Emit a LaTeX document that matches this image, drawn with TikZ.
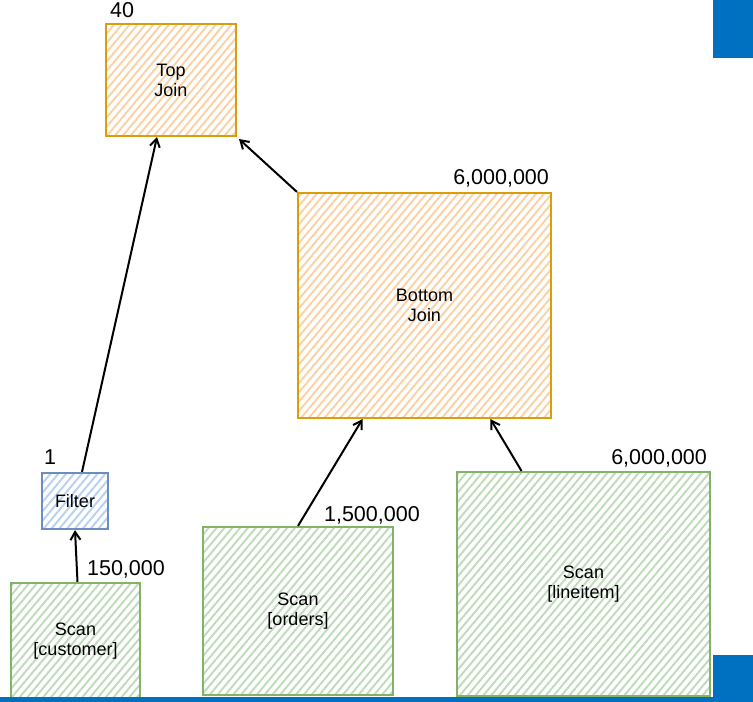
\documentclass[tikz,border=0pt]{standalone}
\usepackage{fontspec}
\setmainfont{Liberation Sans}
\usepackage{xcolor}
\usetikzlibrary{arrows.meta,patterns.meta}
\definecolor{joinline}{HTML}{DA9E0A}
\definecolor{joinfill}{HTML}{FAD2A6}
\definecolor{scanline}{HTML}{82B366}
\definecolor{scanfill}{HTML}{C0DCBC}
\definecolor{filtline}{HTML}{6C8EBF}
\definecolor{filtfill}{HTML}{BAD1F2}
\definecolor{slidebar}{HTML}{0070C0}
\tikzset{
    OpBox/.style = {draw,line width=2.2pt,inner sep=0pt,align=center,
        font=\fontsize{18}{20}\selectfont},
    JoinBox/.style = {OpBox,draw=joinline,pattern color=joinfill,
        pattern={Lines[angle=50,distance=6pt,line width=2pt]}},
    ScanBox/.style = {OpBox,draw=scanline,pattern color=scanfill,
        pattern={Lines[angle=50,distance=6pt,line width=2pt]}},
    FiltBox/.style = {OpBox,draw=filtline,pattern color=filtfill,
        pattern={Lines[angle=50,distance=6pt,line width=2pt]}},
    RowCount/.style = {inner sep=0pt,font=\fontsize{21.5}{24}\selectfont},
    Flow/.style = {draw,line width=2pt,-{Straight Barb[length=8pt,width=10pt]}}
}
\begin{document}
\begin{tikzpicture}[x=1pt,y=-1pt]
    \useasboundingbox (0,0) rectangle (753,702);
    % operators
    \node[JoinBox,minimum width=130pt,minimum height=112pt] (topjoin) at (171,80) {Top\\Join};
    \node[JoinBox,minimum width=253pt,minimum height=225pt] (botjoin) at (424.5,305.5) {Bottom\\Join};
    \node[FiltBox,minimum width=66pt,minimum height=56pt] (filter) at (75,501) {Filter};
    \node[ScanBox,minimum width=129pt,minimum height=116pt] (scancust) at (75.5,641) {Scan\\{[customer]}};
    \node[ScanBox,minimum width=190pt,minimum height=168pt] (scanord) at (298,611) {Scan\\{[orders]}};
    \node[ScanBox,minimum width=253pt,minimum height=224pt] (scanitem) at (583.5,584) {Scan\\{[lineitem]}};
    % row counts
    \node[RowCount,anchor=base west] (ntop) at ([xshift=5pt,yshift=6pt]topjoin.north west) {40};
    \node[RowCount,anchor=base east] (nbot) at ([xshift=-3pt,yshift=7pt]botjoin.north east) {6,000,000};
    \node[RowCount,anchor=base west] (nfilt) at ([xshift=3pt,yshift=7pt]filter.north west) {1};
    \node[RowCount,anchor=base west] (ncust) at ([xshift=77pt,yshift=6pt]scancust.north west) {150,000};
    \node[RowCount,anchor=base west] (nord) at ([xshift=122pt,yshift=4pt]scanord.north west) {1,500,000};
    \node[RowCount,anchor=base east] (nitem) at ([xshift=-4pt,yshift=6pt]scanitem.north east) {6,000,000};
    % data flow
    \draw[Flow] ([xshift=2pt]scancust.north) -- (filter.south);
    \draw[Flow] ([xshift=7pt]filter.north) -- ([xshift=-14pt]topjoin.south);
    \draw[Flow] (botjoin.north west) -- ([xshift=2pt,yshift=-2pt]topjoin.south east);
    \draw[Flow] (scanord.north) -- ([xshift=-62pt]botjoin.south);
    \draw[Flow] ([xshift=-62pt]scanitem.north) -- ([xshift=66pt]botjoin.south);
    % slide decorations
    \fill[slidebar] (713,0) rectangle (753,58);
    \fill[slidebar] (713,655) rectangle (753,702);
    \fill[slidebar] (0,697) rectangle (753,702);
\end{tikzpicture}
\end{document}
